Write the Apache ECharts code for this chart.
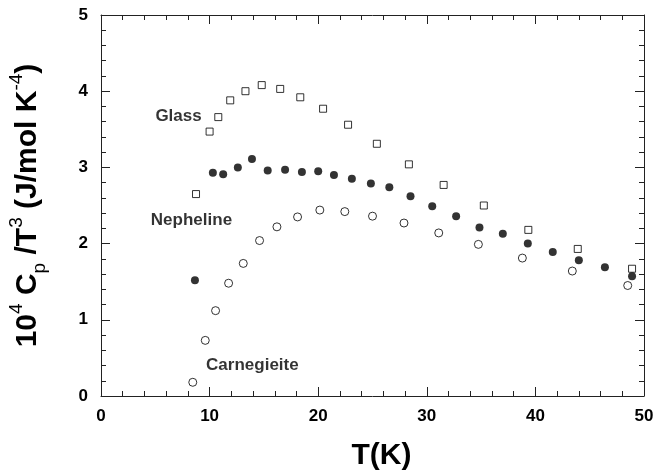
<!DOCTYPE html>
<html lang="en">
  <head>
    <meta charset="UTF-8" />
    <title>Cp/T3 vs T</title>
    <script src="https://cdn.jsdelivr.net/npm/echarts/dist/echarts.min.js"></script>
    <style>
      html, body { margin: 0; padding: 0; background: #fff; }
    </style>
  </head>
  <body>
    <div id="chart" style="width: 658px; height: 473px"></div>
    <script>
      // data: T (K) and 10^4 Cp/T^3
      var glassT = [8.75, 10.0, 10.8, 11.9, 13.3, 14.8, 16.5, 18.35, 20.45, 22.75, 25.4, 28.35, 31.55, 35.25, 39.35, 43.9, 48.9];
      var glassCp = [2.65, 3.47, 3.66, 3.88, 4.0, 4.08, 4.03, 3.92, 3.77, 3.56, 3.31, 3.04, 2.77, 2.5, 2.18, 1.93, 1.67];

      var nephT = [8.65, 10.3, 11.25, 12.6, 13.9, 15.35, 16.95, 18.5, 20.0, 21.45, 23.1, 24.85, 26.55, 28.5, 30.5, 32.7, 34.85, 37.0, 39.3, 41.6, 44.0, 46.4, 48.9];
      var nephCp = [1.52, 2.93, 2.91, 3.0, 3.11, 2.96, 2.97, 2.94, 2.95, 2.9, 2.85, 2.79, 2.74, 2.62, 2.49, 2.36, 2.21, 2.13, 2.0, 1.89, 1.78, 1.69, 1.57];

      var carnT = [8.45, 9.6, 10.55, 11.75, 13.1, 14.6, 16.2, 18.1, 20.15, 22.45, 25.0, 27.9, 31.1, 34.75, 38.8, 43.4, 48.5];
      var carnCp = [0.18, 0.73, 1.12, 1.48, 1.74, 2.04, 2.22, 2.35, 2.44, 2.42, 2.36, 2.27, 2.14, 1.99, 1.81, 1.64, 1.45];

      // labels placed in data coordinates
      var labelNames = ["Glass", "Nepheline", "Carnegieite"];
      var labelT = [7.14, 8.33, 13.94];
      var labelCp = [3.67, 2.3, 0.4];

      var FONT = "Liberation Sans, Arial, Helvetica, sans-serif";

      function pairs(xs, ys) {
        return xs.map(function (x, i) { return [x, ys[i]]; });
      }

      var chart = echarts.init(document.getElementById("chart"));

      function xAx(pos, labels) {
        return {
          type: "value", position: pos, min: 0, max: 50, interval: 10,
          axisLine: { show: true, onZero: false, lineStyle: { color: "#222", width: 1 } },
          axisTick: { show: true, inside: true, length: 9, lineStyle: { color: "#222" } },
          minorTick: { show: true, splitNumber: 5, length: 5, lineStyle: { color: "#222" } },
          splitLine: { show: false },
          axisLabel: {
            show: labels, color: "#000", fontSize: 17, fontWeight: "bold",
            fontFamily: FONT, margin: 12
          },
          name: labels ? "T(K)" : "",
          nameLocation: "middle",
          nameGap: 45,
          nameTextStyle: { color: "#000", fontSize: 30, fontWeight: "bold", fontFamily: FONT, padding: [0, 0, 0, 18] }
        };
      }

      function yAx(pos, labels) {
        return {
          type: "value", position: pos, min: 0, max: 5, interval: 1,
          axisLine: { show: true, onZero: false, lineStyle: { color: "#222", width: 1 } },
          axisTick: { show: true, inside: true, length: 9, lineStyle: { color: "#222" } },
          minorTick: { show: true, splitNumber: 5, length: 5, lineStyle: { color: "#222" } },
          splitLine: { show: false },
          axisLabel: {
            show: labels, color: "#000", fontSize: 17, fontWeight: "bold",
            fontFamily: FONT, margin: 13
          },
          name: labels ? "{m|10}{sup|4}{m| C}{sub|p}{m| /T}{sup|3}{m| (J/mol K}{sup|-4}{m|)}" : "",
          nameLocation: "middle",
          nameGap: 52,
          nameTextStyle: {
            color: "#000", fontFamily: FONT, fontWeight: "bold",
            rich: {
              m: { fontSize: 30, fontWeight: "bold", fontFamily: FONT, color: "#000", lineHeight: 42 },
              sup: { fontSize: 19, fontWeight: "normal", fontFamily: FONT, color: "#000", lineHeight: 20, verticalAlign: "top" },
              sub: { fontSize: 19, fontWeight: "normal", fontFamily: FONT, color: "#000", lineHeight: 16, verticalAlign: "bottom" }
            }
          }
        };
      }

      var option = {
        animation: false,
        backgroundColor: "#fff",
        grid: { left: 101, right: 14, top: 15, bottom: 77, containLabel: false, outerBoundsMode: "none" },
        xAxis: [xAx("bottom", true), xAx("top", false)],
        yAxis: [yAx("left", true), yAx("right", false)],
        series: [
          {
            name: "Glass", type: "scatter", symbol: "rect", symbolSize: 7,
            itemStyle: { color: "#fff", borderColor: "#000", borderWidth: 1 },
            data: pairs(glassT, glassCp)
          },
          {
            name: "Nepheline", type: "scatter", symbol: "circle", symbolSize: 8,
            itemStyle: { color: "#000" },
            data: pairs(nephT, nephCp)
          },
          {
            name: "Carnegieite", type: "scatter", symbol: "circle", symbolSize: 8,
            itemStyle: { color: "#fff", borderColor: "#000", borderWidth: 1 },
            data: pairs(carnT, carnCp)
          },
          {
            name: "labels", type: "scatter", symbolSize: 1, silent: true,
            itemStyle: { color: "rgba(0,0,0,0)" },
            label: {
              show: true, position: "inside", formatter: "{b}",
              color: "#000", fontSize: 17, fontWeight: "bold", fontFamily: FONT
            },
            data: labelNames.map(function (n, i) {
              return { name: n, value: [labelT[i], labelCp[i]] };
            })
          }
        ]
      };

      chart.setOption(option);
    </script>
  </body>
</html>
